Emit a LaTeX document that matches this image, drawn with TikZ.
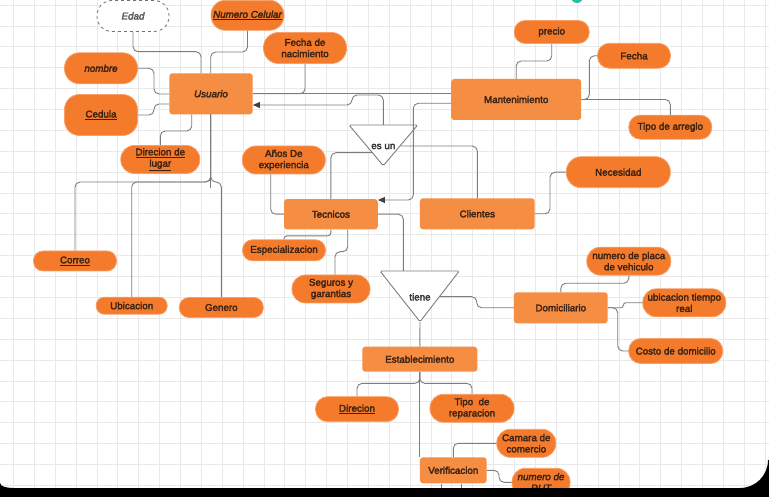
\documentclass[tikz,border=0pt]{standalone}
\usepackage{fontspec}
\setmainfont{Liberation Sans}[FakeBold=3]
\usetikzlibrary{arrows.meta}
\definecolor{pill}{RGB}{243,123,43}
\definecolor{pilledge}{RGB}{247,160,105}
\definecolor{entc}{RGB}{245,141,67}
\definecolor{txt}{RGB}{62,36,20}
\definecolor{wire}{RGB}{125,125,125}
\definecolor{gridc}{RGB}{233,233,233}
\definecolor{tealc}{RGB}{40,190,160}
\newcommand\fsz{\fontsize{9.8pt}{11.3pt}\selectfont}
\begin{document}
\begin{tikzpicture}[x=1pt,y=-1pt,
  every node/.style={font=\fsz, text=txt, align=center, inner sep=0pt},
  attr/.style n args={3}{fill=pill, draw=pilledge, line width=0.8pt, minimum width=#1pt, minimum height=#2pt, rounded corners=#3pt},
  ent/.style 2 args={fill=entc, draw=none, minimum width=#1pt, minimum height=#2pt, rounded corners=3pt},
  conn/.style={draw=wire, line width=0.9pt, rounded corners=5pt},
  arr/.style={-{Triangle[length=7pt,width=6pt,color=black!75,fill=black!75]}},
  tri/.style={fill=white, draw=wire, line width=0.9pt, rounded corners=1.5pt}]
\clip (0,0) rectangle (769,497);
\fill[white] (0,0) rectangle (769,497);
\foreach \i in {0,...,36} \draw[gridc, line width=0.6pt] ({13.3+20.88*\i},0) -- ++(0,497);
\foreach \j in {0,...,23} \draw[gridc, line width=0.6pt] (0,{5+20.88*\j}) -- ++(769,0);
\fill[tealc] (577,-3) circle[radius=6];

% relationship triangles
\draw[tri] (349,125) -- (417.7,125) -- (383.3,165.7) -- cycle;
\node[text=black!80] (esun) at (383.3,146.5) {es un};
\coordinate (esunT) at (383.3,125);
\coordinate (esunL) at (372.3,152.7);
\coordinate (esunR) at (400.5,146);
\draw[tri] (380,271) -- (459.3,271) -- (420,321.7) -- cycle;
\node[text=black!80] (tiene) at (420,297) {tiene};
\coordinate (tieneT) at (403.3,271);
\coordinate (tieneR) at (440,296.7);
\coordinate (tieneB) at (420,321.7);

% nodes
\node[attr={72}{31}{15}, fill=white, draw=black!55, dashed, text=black!65, font=\fsz\itshape] (edad) at (133,16) {Edad};
\node[attr={73}{30}{14.5}, font=\fsz\itshape] (numcel) at (247.5,15.3) {\underline{Numero Celular}};
\node[attr={83}{31}{15}] (fechanac) at (305,48) {Fecha de\\nacimiento};
\node[attr={73}{31}{15}, font=\fsz\itshape] (nombre) at (101,68.3) {nombre};
\node[ent={83.4}{41}, font=\fsz\itshape] (usuario) at (211,93.8) {Usuario};
\node[attr={73}{41}{15}] (cedula) at (101,115) {\underline{Cedula}};
\node[attr={79}{28}{13.5}] (dirlugar) at (160.3,159.5) {\underline{Direcion de}\\\underline{lugar}};
\node[attr={83}{28}{13.5}] (anos) at (283.8,160) {Años De\\experiencia};
\node[attr={83}{20}{9.5}] (correo) at (75,261) {\underline{Correo}};
\node[attr={71}{17}{8}] (ubic) at (131.7,305.7) {Ubicacion};
\node[attr={84}{20}{9.5}] (genero) at (221.3,307.5) {Genero};
\node[ent={93.7}{30.3}] (tecnicos) at (330.9,214.2) {Tecnicos};
\node[attr={83}{21}{10}] (espec) at (284,250.3) {Especializacion};
\node[attr={78}{28}{13.5}] (seguros) at (331,289) {Seguros y\\garantias};
\node[attr={75}{23}{11}] (precio) at (551.7,32) {precio};
\node[attr={73}{25}{12}] (fecha) at (634,55.8) {Fecha};
\node[ent={130}{41}] (mant) at (516.2,99.5) {Mantenimiento};
\node[attr={83}{24}{11.5}] (tipoarr) at (670.3,127.2) {Tipo de arreglo};
\node[attr={104}{31}{15}] (necesidad) at (618.3,172.2) {Necesidad};
\node[ent={114.7}{31}] (clientes) at (477.3,213.8) {Clientes};
\node[attr={84}{28}{13.5}] (placa) at (628.8,261.2) {numero de placa\\de vehiculo};
\node[ent={93.7}{31}] (domic) at (560.8,307.8) {Domiciliario};
\node[attr={83}{28}{13.5}] (ubictr) at (684.3,302.8) {ubicacion tiempo\\real};
\node[attr={94}{25}{12}] (costo) at (675.7,351) {Costo de domicilio};
\node[ent={115}{25}] (estab) at (419.8,359.2) {Establecimiento};
\node[attr={83}{25}{12}] (direcion) at (357,409.2) {\underline{Direcion}};
\node[attr={84}{28}{13.5}] (tiporep) at (472,408.3) {Tipo\ \ de\\reparacion};
\node[attr={59}{28}{13.5}] (camara) at (526.3,443.3) {Camara de\\comercio};
\node[ent={66.7}{26}] (verif) at (453.3,470.3) {Verificacion};
\node[attr={58}{28}{13.5}, font=\fsz\itshape] (rut) at (541,482.3) {numero de\\RUT};

% connectors
\draw[conn] (edad.south) |- (201,51.7) -- (201,51.7 |- usuario.north);
\draw[conn] (numcel.south) |- (210.7,52) -- (210.7,52 |- usuario.north);
\draw[conn] (nombre.east) -| (154,94) -- (154,94 -| usuario.west);
\draw[conn] (cedula.east) -| (154,104) -- (154,104 -| usuario.west);
\draw[conn] (usuario.south -| 191.7,0) |- (160.3,131) -- (dirlugar.north);
\draw[conn] (fechanac.south) |- (usuario.east);
\draw[conn] (usuario.east) -- (usuario.east -| mant.west);
\draw[conn, arr] (esunT) -- (383.3,95) -- (352,95) -- (352,105) -- (usuario.east |- 0,105);
\draw[conn, arr] (mant.west |- 0,103.3) -| (413.3,200) -- (tecnicos.east |- 0,200);
\draw[conn] (esunL) -| (tecnicos.north);
\draw[conn] (esunR) -| (clientes.north);
\draw[conn] (tecnicos.east) -| (tieneT);
\draw[conn] (tieneR) -| (476.7,307.8) -- (domic.west);
\draw[conn] (tieneB) -- (estab.north);
\draw[conn] (estab.south) -- ++(0,11.5) -| (direcion.north);
\draw[conn] (estab.south) -- ++(0,11.5) -| (tiporep.north);
\draw[conn] (estab.south) -- (estab.south |- verif.north);
\draw[conn] (verif.north) |- (camara.west);
\draw[conn] (verif.east) -| (499,482.3) -- (rut.west);
\draw[conn] (verif.south -| 441,0) -- ++(0,8);
\draw[conn] (verif.south -| 461.7,0) -- ++(0,8);
\draw[conn] (anos.south -| 270.7,0) |- (tecnicos.west);
\draw[conn, rounded corners=3pt] (tecnicos.south) -- ++(0,6.3) -| (espec.north);
\draw[conn] (tecnicos.south -| 347.7,0) -- (347.7,251.7) -| (seguros.north -| 335,0);
\draw[conn] (clientes.east) -| (550,172.2) -- (necesidad.west);
\draw[conn] (mant.north) -- (516.2,61) -| (precio.south);
\draw[conn] (mant.east) -| (589.3,55.8) -- (fecha.west);
\draw[conn] (mant.east) -| (tipoarr.north);
\draw[conn] (domic.north) -- (560.8,283.3) -| (placa.south);
\draw[conn, rounded corners=2.5pt] (domic.east) -| (623.3,302.8) -- (ubictr.west);
\draw[conn] (domic.east) -| (617.7,351) -- (costo.west);
\draw[conn] (usuario.south -| 210.7,0) -- (210.7,182) -| (correo.north);
\draw[conn] (usuario.south -| 210.7,0) -- (210.7,182) -| (ubic.north);
\draw[conn] (usuario.south -| 210.7,0) -- (210.7,182) -| (genero.north);
\draw[conn] (usuario.south -| 210.7,0) -- (210.7,188);

% screen frame
\fill[black] (0,488) rectangle (769,497);
\fill[black] (769,460) -- (768,460) .. controls (768,475.5) and (755.5,488) .. (740,488) -- (740,497) -- (769,497) -- cycle;
\fill[black] (0,483) .. controls (0,486.5) and (7,488) .. (13,488) -- (0,488) -- cycle;
\end{tikzpicture}
\end{document}
